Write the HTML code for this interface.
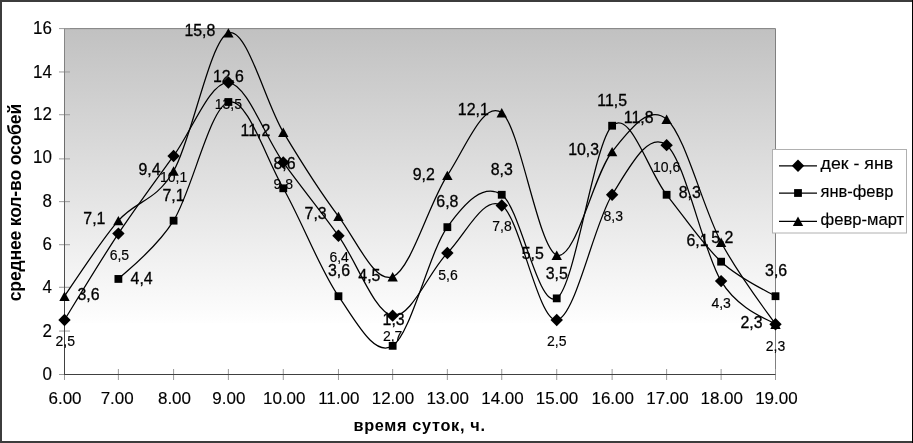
<!DOCTYPE html>
<html lang="ru">
<head>
<meta charset="utf-8">
<title>время суток — среднее кол-во особей</title>
<style>
html,body{margin:0;padding:0;background:#fff;}
body{width:913px;height:443px;overflow:hidden;font-family:"Liberation Sans",Arial,sans-serif;}
svg{display:block;}
</style>
</head>
<body>
<svg width="913" height="443" viewBox="0 0 913 443" font-family="'Liberation Sans', Arial, sans-serif">
<defs><linearGradient id="g" x1="0" y1="0" x2="0" y2="1">
<stop offset="0" stop-color="#c1c1c1"/>
<stop offset="0.85" stop-color="#fefefe"/>
<stop offset="0.85" stop-color="#ffffff"/>
<stop offset="1" stop-color="#ffffff"/>
</linearGradient>
<linearGradient id="ya" x1="0" y1="0" x2="0" y2="1"><stop offset="0" stop-color="#8a8a8a"/><stop offset="0.85" stop-color="#404040"/><stop offset="1" stop-color="#404040"/></linearGradient></defs>
<rect x="0" y="0" width="913" height="443" fill="#fff"/>
<rect x="64.50" y="28.60" width="711.00" height="345.90" fill="url(#g)"/>
<path d="M64.50,28.60 H775.50 V380.00" fill="none" stroke="#808080" stroke-width="1"/>
<path d="M59.00,374.50 H70.00 M59.00,331.04 H70.00 M59.00,287.27 H70.00 M59.00,244.71 H70.00 M59.00,201.65 H70.00 M59.00,158.89 H70.00 M59.00,114.73 H70.00 M59.00,71.96 H70.00 M59.00,28.60 H70.00 M64.50,369.00 V380.00 M118.39,369.00 V380.00 M173.58,369.00 V380.00 M228.38,369.00 V380.00 M283.27,369.00 V380.00 M338.46,369.00 V380.00 M392.65,369.00 V380.00 M447.35,369.00 V380.00 M501.74,369.00 V380.00 M556.73,369.00 V380.00 M612.12,369.00 V380.00 M666.62,369.00 V380.00 M721.11,369.00 V380.00 M775.50,369.00 V380.00" fill="none" stroke="#9a9a9a" stroke-width="1"/>
<rect x="64.00" y="28.60" width="1" height="346.40" fill="url(#ya)"/>
<path d="M64.00,374.50 H775.50" fill="none" stroke="#404040" stroke-width="1"/>
<g fill="#000" stroke="#000" stroke-width="0.15">
<text transform="translate(52.00,380.20) scale(0.97,1.02)" font-size="17.5" text-anchor="end">0</text>
<text transform="translate(52.00,336.74) scale(0.97,1.02)" font-size="17.5" text-anchor="end">2</text>
<text transform="translate(52.00,292.77) scale(0.97,1.02)" font-size="17.5" text-anchor="end">4</text>
<text transform="translate(52.00,250.41) scale(0.97,1.02)" font-size="17.5" text-anchor="end">6</text>
<text transform="translate(52.00,206.75) scale(0.97,1.02)" font-size="17.5" text-anchor="end">8</text>
<text transform="translate(52.00,163.09) scale(0.97,1.02)" font-size="17.5" text-anchor="end">10</text>
<text transform="translate(52.00,120.43) scale(0.97,1.02)" font-size="17.5" text-anchor="end">12</text>
<text transform="translate(52.00,77.76) scale(0.97,1.02)" font-size="17.5" text-anchor="end">14</text>
<text transform="translate(52.00,34.10) scale(0.97,1.02)" font-size="17.5" text-anchor="end">16</text>
<text transform="translate(65.00,404.00) scale(0.97,0.97)" font-size="17.5" text-anchor="middle">6.00</text>
<text transform="translate(117.19,404.00) scale(0.97,0.97)" font-size="17.5" text-anchor="middle">7.00</text>
<text transform="translate(174.48,404.00) scale(0.97,0.97)" font-size="17.5" text-anchor="middle">8.00</text>
<text transform="translate(228.88,404.00) scale(0.97,0.97)" font-size="17.5" text-anchor="middle">9.00</text>
<text transform="translate(284.27,404.00) scale(0.97,0.97)" font-size="17.5" text-anchor="middle">10.00</text>
<text transform="translate(338.76,404.00) scale(0.97,0.97)" font-size="17.5" text-anchor="middle">11.00</text>
<text transform="translate(392.95,404.00) scale(0.97,0.97)" font-size="17.5" text-anchor="middle">12.00</text>
<text transform="translate(447.65,404.00) scale(0.97,0.97)" font-size="17.5" text-anchor="middle">13.00</text>
<text transform="translate(502.44,404.00) scale(0.97,0.97)" font-size="17.5" text-anchor="middle">14.00</text>
<text transform="translate(557.03,404.00) scale(0.97,0.97)" font-size="17.5" text-anchor="middle">15.00</text>
<text transform="translate(612.72,404.00) scale(0.97,0.97)" font-size="17.5" text-anchor="middle">16.00</text>
<text transform="translate(667.52,404.00) scale(0.97,0.97)" font-size="17.5" text-anchor="middle">17.00</text>
<text transform="translate(721.71,404.00) scale(0.97,0.97)" font-size="17.5" text-anchor="middle">18.00</text>
<text transform="translate(776.40,404.00) scale(0.97,0.97)" font-size="17.5" text-anchor="middle">19.00</text>
</g>
<text x="353.45" y="431.00" font-size="16.3" font-weight="bold" textLength="131.5" lengthAdjust="spacing">время суток, ч.</text>
<text transform="translate(21.20,301.25) rotate(-90)" font-size="17.6" font-weight="bold" textLength="197.5" lengthAdjust="spacing">среднее кол-во особей</text>
<path d="M64.50,319.95 C69.89,311.31 100.21,260.96 118.39,233.62 C136.57,206.29 155.25,181.11 173.58,155.93 C191.92,130.75 210.10,81.47 228.38,82.55 C246.66,83.63 264.92,136.87 283.27,162.40 C301.62,187.94 320.23,210.24 338.46,235.78 C356.69,261.32 374.51,312.75 392.65,315.63 C410.80,318.51 429.17,271.39 447.35,253.05 C465.53,234.70 483.51,194.42 501.74,205.57 C519.97,216.72 538.33,321.75 556.73,319.95 C575.13,318.15 593.81,223.91 612.12,194.78 C630.44,165.64 648.45,130.75 666.62,145.14 C684.78,159.53 702.96,251.25 721.11,281.10 C739.14,310.77 770.06,319.95 775.50,324.26" fill="none" stroke="#000" stroke-width="1.25" stroke-linejoin="round"/>
<path d="M118.39,278.94 C123.91,273.12 155.25,250.17 173.58,220.67 C191.92,191.18 210.10,107.37 228.38,101.98 C246.66,96.58 264.92,155.93 283.27,188.30 C301.62,220.67 320.23,269.95 338.46,296.21 C356.69,322.46 374.51,357.35 392.65,345.84 C410.80,334.33 429.17,252.33 447.35,227.15 C465.53,201.97 483.51,182.91 501.74,194.78 C519.97,206.65 538.33,309.88 556.73,298.37 C575.13,286.86 593.81,142.98 612.12,125.72 C630.44,108.45 648.45,172.12 666.62,194.78 C684.78,217.44 702.96,244.77 721.11,261.68 C739.26,278.58 770.06,292.75 775.50,296.21" fill="none" stroke="#000" stroke-width="1.25" stroke-linejoin="round"/>
<path d="M64.50,296.21 C69.89,288.65 100.21,241.53 118.39,220.67 C136.57,199.81 155.25,202.33 173.58,171.04 C191.92,139.74 210.10,39.39 228.38,32.92 C246.66,26.44 264.92,101.62 283.27,132.19 C301.62,162.76 320.23,192.26 338.46,216.36 C356.69,240.46 374.51,283.62 392.65,276.78 C410.80,269.95 429.17,202.69 447.35,175.35 C465.53,148.02 483.51,99.46 501.74,112.77 C519.97,126.08 538.33,248.73 556.73,255.20 C575.13,261.68 593.81,174.27 612.12,151.61 C630.44,128.95 648.45,104.13 666.62,119.24 C684.78,134.35 702.96,208.08 721.11,242.25 C739.26,276.42 770.06,316.06 775.50,324.26" fill="none" stroke="#000" stroke-width="1.25" stroke-linejoin="round"/>
<path d="M64.50,313.75 L70.70,319.95 L64.50,326.15 L58.30,319.95 Z" fill="#000"/>
<path d="M118.39,227.42 L124.59,233.62 L118.39,239.82 L112.19,233.62 Z" fill="#000"/>
<path d="M173.58,149.73 L179.78,155.93 L173.58,162.13 L167.38,155.93 Z" fill="#000"/>
<path d="M228.38,76.35 L234.58,82.55 L228.38,88.75 L222.18,82.55 Z" fill="#000"/>
<path d="M283.27,156.20 L289.47,162.40 L283.27,168.60 L277.07,162.40 Z" fill="#000"/>
<path d="M338.46,229.58 L344.66,235.78 L338.46,241.98 L332.26,235.78 Z" fill="#000"/>
<path d="M392.65,309.43 L398.85,315.63 L392.65,321.83 L386.45,315.63 Z" fill="#000"/>
<path d="M447.35,246.85 L453.55,253.05 L447.35,259.25 L441.15,253.05 Z" fill="#000"/>
<path d="M501.74,199.37 L507.94,205.57 L501.74,211.77 L495.54,205.57 Z" fill="#000"/>
<path d="M556.73,313.75 L562.93,319.95 L556.73,326.15 L550.53,319.95 Z" fill="#000"/>
<path d="M612.12,188.58 L618.32,194.78 L612.12,200.98 L605.92,194.78 Z" fill="#000"/>
<path d="M666.62,138.94 L672.82,145.14 L666.62,151.34 L660.42,145.14 Z" fill="#000"/>
<path d="M721.11,274.90 L727.31,281.10 L721.11,287.30 L714.91,281.10 Z" fill="#000"/>
<path d="M775.50,318.06 L781.70,324.26 L775.50,330.46 L769.30,324.26 Z" fill="#000"/>
<rect x="114.49" y="275.04" width="7.80" height="7.80" fill="#000"/>
<rect x="169.68" y="216.77" width="7.80" height="7.80" fill="#000"/>
<rect x="224.48" y="98.08" width="7.80" height="7.80" fill="#000"/>
<rect x="279.37" y="184.40" width="7.80" height="7.80" fill="#000"/>
<rect x="334.56" y="292.31" width="7.80" height="7.80" fill="#000"/>
<rect x="388.75" y="341.94" width="7.80" height="7.80" fill="#000"/>
<rect x="443.45" y="223.25" width="7.80" height="7.80" fill="#000"/>
<rect x="497.84" y="190.88" width="7.80" height="7.80" fill="#000"/>
<rect x="552.83" y="294.47" width="7.80" height="7.80" fill="#000"/>
<rect x="608.22" y="121.82" width="7.80" height="7.80" fill="#000"/>
<rect x="662.72" y="190.88" width="7.80" height="7.80" fill="#000"/>
<rect x="717.21" y="257.78" width="7.80" height="7.80" fill="#000"/>
<rect x="771.60" y="292.31" width="7.80" height="7.80" fill="#000"/>
<path d="M64.50,291.51 L69.70,300.91 L59.30,300.91 Z" fill="#000"/>
<path d="M118.39,215.97 L123.59,225.37 L113.19,225.37 Z" fill="#000"/>
<path d="M173.58,166.34 L178.78,175.74 L168.38,175.74 Z" fill="#000"/>
<path d="M228.38,28.22 L233.58,37.62 L223.18,37.62 Z" fill="#000"/>
<path d="M283.27,127.49 L288.47,136.89 L278.07,136.89 Z" fill="#000"/>
<path d="M338.46,211.66 L343.66,221.06 L333.26,221.06 Z" fill="#000"/>
<path d="M392.65,272.08 L397.85,281.48 L387.45,281.48 Z" fill="#000"/>
<path d="M447.35,170.65 L452.55,180.05 L442.15,180.05 Z" fill="#000"/>
<path d="M501.74,108.07 L506.94,117.47 L496.54,117.47 Z" fill="#000"/>
<path d="M556.73,250.50 L561.93,259.90 L551.53,259.90 Z" fill="#000"/>
<path d="M612.12,146.91 L617.32,156.31 L606.92,156.31 Z" fill="#000"/>
<path d="M666.62,114.54 L671.82,123.94 L661.42,123.94 Z" fill="#000"/>
<path d="M721.11,237.55 L726.31,246.95 L715.91,246.95 Z" fill="#000"/>
<path d="M775.50,319.56 L780.70,328.96 L770.30,328.96 Z" fill="#000"/>
<g fill="#000" stroke="#000" stroke-width="0.3">
<text transform="translate(88.50,300.21) scale(1,1)" font-size="15.9" text-anchor="middle">3,6</text>
<text transform="translate(105.39,224.47) scale(1,1)" font-size="15.9" text-anchor="end">7,1</text>
<text transform="translate(160.58,174.84) scale(1,1)" font-size="15.9" text-anchor="end">9,4</text>
<text transform="translate(215.38,36.02) scale(1,1)" font-size="15.9" text-anchor="end">15,8</text>
<text transform="translate(270.27,135.99) scale(1,1)" font-size="15.9" text-anchor="end">11,2</text>
<text transform="translate(326.66,219.16) scale(1,1)" font-size="15.9" text-anchor="end">7,3</text>
<text transform="translate(380.45,281.08) scale(1,1)" font-size="15.9" text-anchor="end">4,5</text>
<text transform="translate(434.85,179.85) scale(1,1)" font-size="15.9" text-anchor="end">9,2</text>
<text transform="translate(488.74,115.37) scale(1,1)" font-size="15.9" text-anchor="end">12,1</text>
<text transform="translate(543.73,259.00) scale(1,1)" font-size="15.9" text-anchor="end">5,5</text>
<text transform="translate(599.12,155.41) scale(1,1)" font-size="15.9" text-anchor="end">10,3</text>
<text transform="translate(653.62,123.04) scale(1,1)" font-size="15.9" text-anchor="end">11,8</text>
<text transform="translate(708.51,246.45) scale(1,1)" font-size="15.9" text-anchor="end">6,1</text>
<text transform="translate(762.50,328.06) scale(1,1)" font-size="15.9" text-anchor="end">2,3</text>
<text transform="translate(141.59,284.44) scale(1,1)" font-size="15.9" text-anchor="middle">4,4</text>
<text transform="translate(173.58,200.87) scale(1,1)" font-size="15.9" text-anchor="middle">7,1</text>
<text transform="translate(228.38,82.18) scale(1,1)" font-size="15.9" text-anchor="middle">12,6</text>
<text transform="translate(284.57,168.50) scale(1,1)" font-size="15.9" text-anchor="middle">8,6</text>
<text transform="translate(339.06,276.41) scale(1,1)" font-size="15.9" text-anchor="middle">3,6</text>
<text transform="translate(393.65,325.04) scale(1,1)" font-size="15.9" text-anchor="middle">1,3</text>
<text transform="translate(447.35,207.35) scale(1,1)" font-size="15.9" text-anchor="middle">6,8</text>
<text transform="translate(501.74,174.98) scale(1,1)" font-size="15.9" text-anchor="middle">8,3</text>
<text transform="translate(556.73,278.57) scale(1,1)" font-size="15.9" text-anchor="middle">3,5</text>
<text transform="translate(612.12,105.92) scale(1,1)" font-size="15.9" text-anchor="middle">11,5</text>
<text transform="translate(689.82,198.48) scale(1,1)" font-size="15.9" text-anchor="middle">8,3</text>
<text transform="translate(722.41,242.58) scale(1,1)" font-size="15.9" text-anchor="middle">5,2</text>
<text transform="translate(776.10,276.41) scale(1,1)" font-size="15.9" text-anchor="middle">3,6</text>
</g>
<g fill="#000" stroke="#000" stroke-width="0.15">
<text transform="translate(65.30,346.45) scale(1,1.0)" font-size="14" text-anchor="middle">2,5</text>
<text transform="translate(119.39,260.12) scale(1,1.0)" font-size="14" text-anchor="middle">6,5</text>
<text transform="translate(173.58,182.43) scale(1,1.0)" font-size="14" text-anchor="middle">10,1</text>
<text transform="translate(228.38,109.05) scale(1,1.0)" font-size="14" text-anchor="middle">13,5</text>
<text transform="translate(283.27,188.90) scale(1,1.0)" font-size="14" text-anchor="middle">9,8</text>
<text transform="translate(339.16,262.28) scale(1,1.0)" font-size="14" text-anchor="middle">6,4</text>
<text transform="translate(392.65,341.13) scale(1,1.0)" font-size="14" text-anchor="middle">2,7</text>
<text transform="translate(447.95,279.55) scale(1,1.0)" font-size="14" text-anchor="middle">5,6</text>
<text transform="translate(502.04,230.87) scale(1,1.0)" font-size="14" text-anchor="middle">7,8</text>
<text transform="translate(556.73,346.45) scale(1,1.0)" font-size="14" text-anchor="middle">2,5</text>
<text transform="translate(613.32,221.28) scale(1,1.0)" font-size="14" text-anchor="middle">8,3</text>
<text transform="translate(666.62,171.64) scale(1,1.0)" font-size="14" text-anchor="middle">10,6</text>
<text transform="translate(721.11,307.60) scale(1,1.0)" font-size="14" text-anchor="middle">4,3</text>
<text transform="translate(775.50,350.76) scale(1,1.0)" font-size="14" text-anchor="middle">2,3</text>
</g>
<rect x="772.50" y="149.50" width="134.00" height="83.50" fill="#fff" stroke="#b0b0b0" stroke-width="1"/>
<path d="M779.00,165.80 H817.00" stroke="#000" stroke-width="1.25"/>
<path d="M798.00,159.60 L804.20,165.80 L798.00,172.00 L791.80,165.80 Z" fill="#000"/>
<text x="820.60" y="169.30" font-size="15.7" fill="#000" stroke="#000" stroke-width="0.15" textLength="72.5" lengthAdjust="spacingAndGlyphs">дек - янв</text>
<path d="M779.00,193.00 H817.00" stroke="#000" stroke-width="1.25"/>
<rect x="794.10" y="189.10" width="7.80" height="7.80" fill="#000"/>
<text x="820.60" y="196.50" font-size="15.7" fill="#000" stroke="#000" stroke-width="0.15" textLength="72.8" lengthAdjust="spacingAndGlyphs">янв-февр</text>
<path d="M779.00,221.30 H817.00" stroke="#000" stroke-width="1.25"/>
<path d="M798.00,216.60 L803.20,226.00 L792.80,226.00 Z" fill="#000"/>
<text x="820.60" y="224.80" font-size="15.7" fill="#000" stroke="#000" stroke-width="0.15" textLength="83.6" lengthAdjust="spacingAndGlyphs">февр-март</text>
<rect x="0" y="0" width="913" height="2" fill="#3c3c3c"/>
<rect x="0" y="441" width="913" height="2" fill="#3c3c3c"/>
<rect x="0" y="0" width="2" height="443" fill="#3c3c3c"/>
<rect x="912" y="0" width="1" height="443" fill="#000"/>
</svg>
</body>
</html>
